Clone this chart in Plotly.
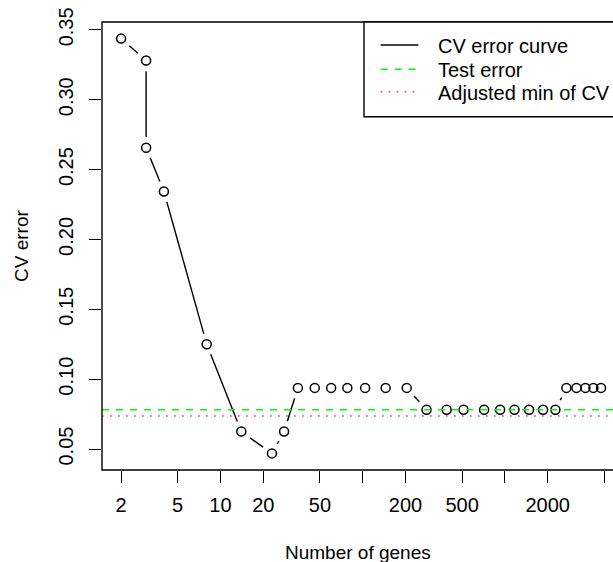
import numpy as np
import plotly.graph_objects as go

# ---- data ----
genes = [2, 3, 3, 4, 8, 14, 23, 28, 35, 46, 60, 78, 104, 145, 204,
         281, 389, 512, 714, 925, 1167, 1478, 1854, 2265,
         2706, 3183, 3681, 4190, 4738]
cv_error = [0.34375, 0.328125, 0.265625, 0.234375, 0.125, 0.0625, 0.046875, 0.0625,
            0.09375, 0.09375, 0.09375, 0.09375, 0.09375, 0.09375, 0.09375,
            0.078125, 0.078125, 0.078125, 0.078125, 0.078125, 0.078125, 0.078125,
            0.078125, 0.078125,
            0.09375, 0.09375, 0.09375, 0.09375, 0.09375]
test_error = 0.078125
adjusted_min_cv = 0.0737

x_tick_vals = [2, 5, 10, 20, 50, 100, 200, 500, 1000, 2000, 5000]
x_tick_text = ["2", "5", "10", "20", "50", "", "200", "500", "", "2000", ""]
y_tick_vals = [0.05, 0.10, 0.15, 0.20, 0.25, 0.30, 0.35]
y_tick_text = ["0.05", "0.10", "0.15", "0.20", "0.25", "0.30", "0.35"]

legend_labels = ["CV error curve", "Test error", "Adjusted min of CV"]

# ---- layout geometry ----
W, H = 613, 562
L, R, T, B = 102, 0, 22, 92
PW, PH = W - L - R, H - T - B
XR = [0.1668, 3.760]           # log10 range
YR = [0.035, 0.355625]
GAP = 10.8                     # px gap around points (R type="b")
FONT = "Liberation Sans, Arial, Helvetica, sans-serif"


def to_px(x, y):
    return ((np.log10(x) - XR[0]) / (XR[1] - XR[0]) * PW,
            (y - YR[0]) / (YR[1] - YR[0]) * PH)


def from_px(px, py):
    return (10 ** (XR[0] + px / PW * (XR[1] - XR[0])),
            YR[0] + py / PH * (YR[1] - YR[0]))


seg_x, seg_y = [], []
for i in range(len(genes) - 1):
    p = np.array(to_px(genes[i], cv_error[i]))
    q = np.array(to_px(genes[i + 1], cv_error[i + 1]))
    d = np.hypot(*(q - p))
    if d > 2 * GAP:
        u = (q - p) / d
        a = p + u * GAP
        b = q - u * GAP
        ax, ay = from_px(*a)
        bx, by = from_px(*b)
        seg_x += [ax, bx, None]
        seg_y += [ay, by, None]

fig = go.Figure()
fig.add_trace(go.Scatter(x=seg_x, y=seg_y, mode="lines",
                         line=dict(color="black", width=1.4),
                         showlegend=False, hoverinfo="skip"))
fig.add_trace(go.Scatter(x=genes, y=cv_error, mode="markers",
                         marker=dict(symbol="circle-open", size=9,
                                     color="black", line=dict(width=1.5)),
                         showlegend=False))

GREEN = dict(color="#00FF00", width=1.4, dash="7px,7px")
RED = dict(color="#FF3030", width=1.6, dash="1.6px,6.4px")
fig.add_hline(y=test_error, line=GREEN)
fig.add_hline(y=adjusted_min_cv, line=RED)

# plot box (right side runs past the edge, as in the reference)
fig.add_shape(type="rect", xref="paper", yref="paper", x0=0, x1=1.05, y0=0, y1=1,
              line=dict(color="black", width=1.4))


def px2paper(px, py):
    return (px - L) / PW, (H - B - py) / PH


# legend box
lx0, ly0 = px2paper(364, 116.7)
fig.add_shape(type="rect", xref="paper", yref="paper", x0=lx0, x1=1.05, y0=ly0, y1=1,
              line=dict(color="black", width=1.4), fillcolor="white", layer="above")
styles = [dict(color="black", width=1.4), GREEN, RED]
rows = [45, 69.3, 91.7]
for lab, st, ry in zip(legend_labels, styles, rows):
    sx0, sy = px2paper(380.7, ry)
    sx1, _ = px2paper(418.3, ry)
    fig.add_shape(type="line", xref="paper", yref="paper", x0=sx0, x1=sx1,
                  y0=sy, y1=sy, line=st, layer="above")
    tx, ty = px2paper(436, ry + 1)
    fig.add_annotation(x=tx, y=ty, xref="paper", yref="paper", text=lab,
                       showarrow=False, xanchor="left", yanchor="middle",
                       font=dict(family=FONT, size=20, color="black"))

# axis titles
ax_x, ax_y = px2paper(0, 552)
fig.add_annotation(x=0.5, y=ax_y, xref="paper", yref="paper", text="Number of genes",
                   showarrow=False, xanchor="center", yanchor="middle",
                   font=dict(family=FONT, size=19, color="black"))
tx, _ = px2paper(21, 0)
fig.add_annotation(x=tx, y=0.5, xref="paper", yref="paper", text="CV error",
                   showarrow=False, xanchor="center", yanchor="middle", textangle=-90,
                   font=dict(family=FONT, size=19, color="black"))

fig.update_layout(
    width=W, height=H,
    margin=dict(l=L, r=R, t=T, b=B, pad=0),
    paper_bgcolor="white", plot_bgcolor="white",
    showlegend=False,
    font=dict(family=FONT, color="black"),
    xaxis=dict(type="log", range=XR, tickvals=x_tick_vals, ticktext=x_tick_text,
               ticks="outside", ticklen=12, tickwidth=1.4, tickcolor="black",
               showgrid=False, zeroline=False, showline=False,
               tickfont=dict(family=FONT, size=20, color="black"),
               ticklabelstandoff=5),
    yaxis=dict(range=YR, tickvals=y_tick_vals, ticktext=y_tick_text,
               ticks="outside", ticklen=12, tickwidth=1.4, tickcolor="black",
               showgrid=False, zeroline=False, showline=False, tickangle=-90,
               tickfont=dict(family=FONT, size=20, color="black"),
               ticklabelstandoff=8),
)

fig.write_html("out.html", config={"displayModeBar": False},
               post_script="document.body.style.margin='0px';")
